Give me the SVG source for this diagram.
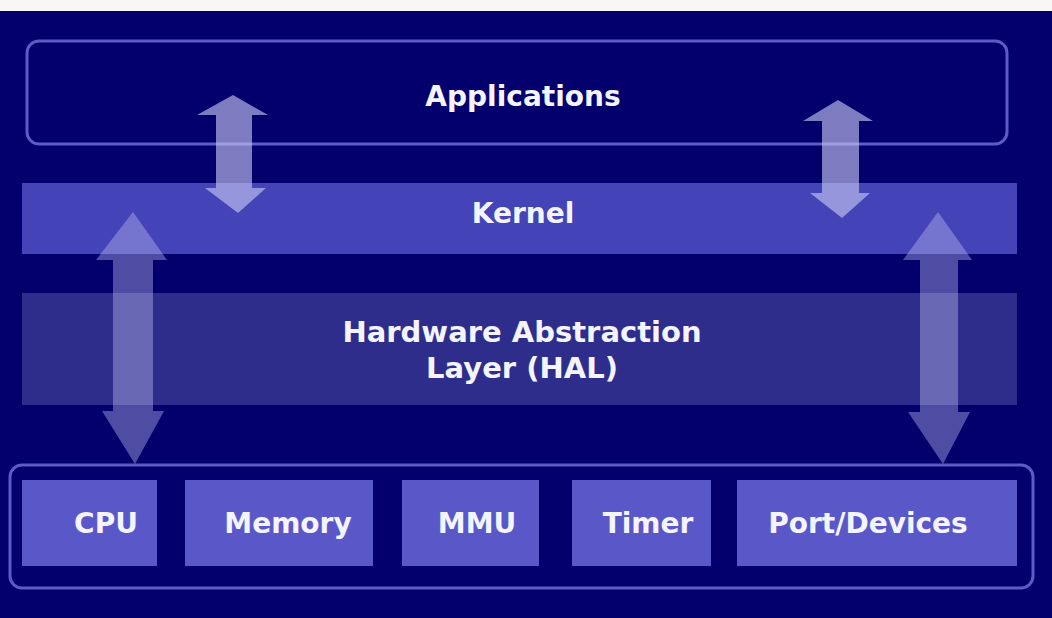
<svg xmlns="http://www.w3.org/2000/svg" width="1052" height="618" viewBox="0 0 1052 618">
<style>
.lbl{font-family:"DejaVu Sans","Liberation Sans",sans-serif;font-weight:bold;font-size:28px;fill:#f4f4ff;text-anchor:middle}
.frame{fill:none;stroke:#5c5cc4;stroke-width:3}
.hw{fill:#5a58c8}
.arrS{fill:#c8c8f4;opacity:0.62}
.arrL{fill:#c0c0f2;opacity:0.4}
</style>
<rect x="0" y="0" width="1052" height="618" fill="#03006e"/>
<rect x="0" y="0" width="1052" height="11" fill="#f7f7f5"/>
<g id="applications">
<rect class="frame" x="27" y="41" width="980" height="103" rx="12"/>
<text class="lbl" x="523" y="106">Applications</text>
</g>
<g id="kernel">
<rect x="22" y="183" width="995" height="71" fill="#4444b8"/>
<text class="lbl" x="523" y="223">Kernel</text>
</g>
<g id="hal">
<rect x="22" y="293" width="995" height="112" fill="#2e2d8c"/>
<text class="lbl" x="522" y="342" style="font-size:29px">Hardware Abstraction</text>
<text class="lbl" x="522" y="378" style="font-size:29px">Layer (HAL)</text>
</g>
<g id="hardware">
<rect class="frame" x="10" y="465" width="1023" height="123" rx="12"/>
</g>
<g id="cpu">
<rect class="hw" x="22" y="480" width="135" height="86"/>
<text class="lbl" x="106" y="533">CPU</text>
</g>
<g id="memory">
<rect class="hw" x="185" y="480" width="188" height="86"/>
<text class="lbl" x="288" y="533">Memory</text>
</g>
<g id="mmu">
<rect class="hw" x="402" y="480" width="137" height="86"/>
<text class="lbl" x="477" y="533">MMU</text>
</g>
<g id="timer">
<rect class="hw" x="572" y="480" width="139" height="86"/>
<text class="lbl" x="648" y="533">Timer</text>
</g>
<g id="port-devices">
<rect class="hw" x="737" y="480" width="280" height="86"/>
<text class="lbl" x="868" y="533">Port/Devices</text>
</g>
<g id="connectors">
<polygon class="arrS" points="233,95 268,115 252,115 252,188 266,188 238,213 205,188 216,188 216,115 197,115"/>
<polygon class="arrS" points="838,100 873,121 859,121 859,193 870,193 842,218 810,193 822,193 822,121 803,121"/>
<polygon class="arrL" points="133,212 167,260 153,260 153,411 164,411 135,464 102,411 113,411 113,260 96,260"/>
<polygon class="arrL" points="938,212 972,260 958,260 958,412 970,412 943,464 908,412 920,412 920,260 903,260"/>
</g>
</svg>
